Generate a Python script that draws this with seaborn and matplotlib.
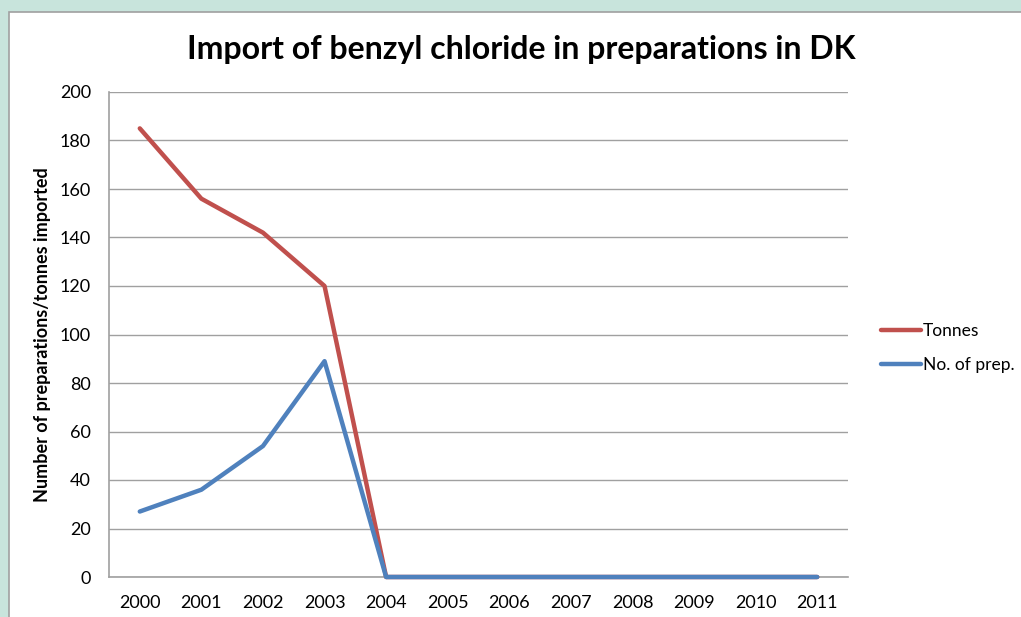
import pandas as pd
import seaborn as sns
import matplotlib.pyplot as plt
from matplotlib.patches import Rectangle

years = ["2000", "2001", "2002", "2003", "2004", "2005", "2006",
         "2007", "2008", "2009", "2010", "2011"]
tonnes = [185, 156, 142, 120, 0, 0, 0, 0, 0, 0, 0, 0]
no_of_prep = [27, 36, 54, 89, 0, 0, 0, 0, 0, 0, 0, 0]
series_names = ["Tonnes", "No. of prep."]
colors = ["#c0504d", "#4f81bd"]

df = pd.DataFrame({
    "year": years * 2,
    "value": tonnes + no_of_prep,
    "series": [series_names[0]] * len(years) + [series_names[1]] * len(years),
})
df["x"] = df["year"].map({y: i for i, y in enumerate(years)})

sns.set_style("white")
plt.rcParams["font.family"] = ["Lato", "DejaVu Sans"]

W, H = 1021, 617
fig = plt.figure(figsize=(W / 100, H / 100), dpi=100, facecolor="#c8e4dc")
# white chart panel with grey border
fig.patches.append(Rectangle((9 / W, -0.1), 1.2, 1 - 12 / H + 0.1, transform=fig.transFigure,
                             facecolor="white", edgecolor="#a0a0a0", linewidth=1.2, zorder=-1))

ax = fig.add_axes([109 / W, 1 - 577 / H, 739 / W, 485 / H])
ax.set_zorder(1)
ax.set_facecolor("none")
sns.lineplot(data=df, x="x", y="value", hue="series", palette=colors,
             linewidth=3.2, ax=ax, legend=False, sort=False)
# lines at zero sit on the axis, keep them whole and on top
for line in ax.get_lines():
    line.set_clip_on(False)
    line.set_zorder(3)

ax.set_xlim(-0.5, len(years) - 0.5)
ax.set_ylim(0, 200)
ax.set_yticks(range(0, 201, 20))
ax.set_xticks(range(len(years)))
ax.set_xticklabels(years)
ax.tick_params(axis="both", length=0, labelsize=13, colors="black")
ax.tick_params(axis="x", pad=13)
ax.tick_params(axis="y", pad=13)
ax.yaxis.grid(True, color="#a0a0a0", linewidth=1)
ax.set_axisbelow(True)
for s in ["top", "right"]:
    ax.spines[s].set_visible(False)
for s in ["left", "bottom"]:
    ax.spines[s].set_color("#a0a0a0")
    ax.spines[s].set_linewidth(1.2)
ax.set_xlabel("")
ax.set_ylabel("Number of preparations/tonnes imported", fontsize=13,
              fontweight="bold", labelpad=6, color="black")

fig.text(521 / W, 1 - 50 / H, "Import of benzyl chloride in preparations in DK",
         ha="center", va="center", fontsize=23, fontweight="bold", color="black")

handles = [plt.Line2D([], [], color=c, linewidth=3.2) for c in colors]
leg = fig.legend(handles, series_names, loc="center left", bbox_to_anchor=(874 / W, 1 - 348 / H),
                 frameon=False, fontsize=12.5, handlelength=2.3, handletextpad=0.1,
                 labelspacing=1.0, borderaxespad=0)
for t in leg.get_texts():
    t.set_color("black")

fig.savefig("out.png", dpi=100, facecolor=fig.get_facecolor())
